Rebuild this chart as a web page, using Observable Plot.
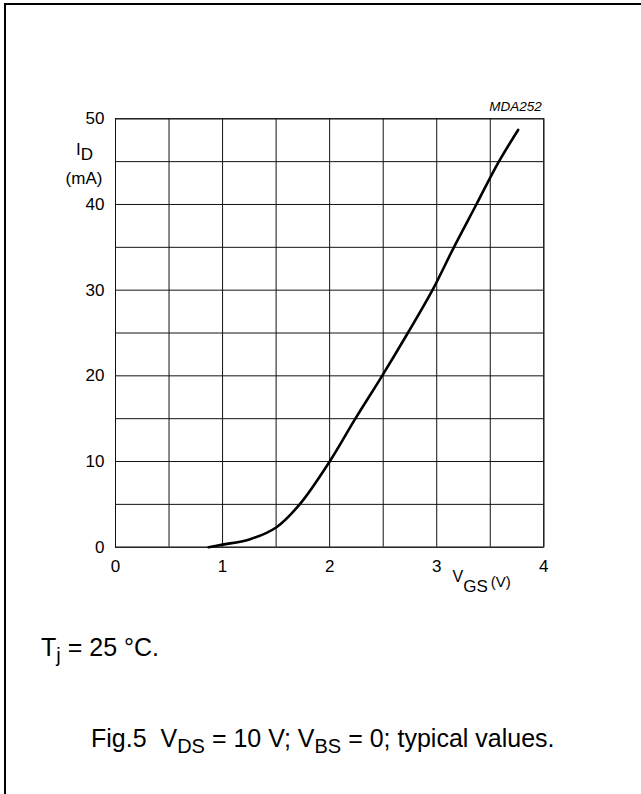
<!DOCTYPE html>
<html><head><meta charset="utf-8">
<script src="https://cdn.jsdelivr.net/npm/d3@7"></script>
<script src="https://cdn.jsdelivr.net/npm/@observablehq/plot@0.6"></script>
<style>
html,body{margin:0;padding:0;background:#fff;overflow:hidden;}
#page{position:relative;width:641px;height:794px;overflow:hidden;font-family:"Liberation Sans",Arial,sans-serif;color:#000;background:#fff;}
#border{position:absolute;left:4px;top:3px;width:700px;height:900px;border:2px solid #000;box-sizing:border-box;z-index:2;pointer-events:none;}
#chart{position:absolute;left:0;top:0;z-index:1;}
.note{position:absolute;font-size:25px;line-height:1;white-space:pre;z-index:3;}
.note sub{font-size:0.8em;vertical-align:-0.3em;line-height:0;}
</style></head><body>
<div id="page">
<div id="border"></div>
<div id="chart"></div>
<div class="note" id="tj" style="left:41px;top:635px;">T<sub>j</sub> = 25 °C.</div>
<div class="note" id="fig" style="left:91px;top:725.5px;">Fig.5  V<sub>DS</sub> = 10 V; V<sub>BS</sub> = 0; typical values.</div>
</div>
<script>
// Curve: V_GS (V) vs I_D (mA)
const vgs = [0.87, 1.0, 1.25, 1.5, 1.72, 2.0, 2.24, 2.49, 2.73, 2.96, 3.16, 3.37, 3.58, 3.76];
const idmA = [0, 0.3, 0.9, 2.3, 5, 10, 15, 20, 25, 30, 35, 40, 45, 48.7];
const xTicks = [0, 1, 2, 3, 4];
const yTicks = [0, 10, 20, 30, 40, 50];
const xGrid = [0, 0.5, 1, 1.5, 2, 2.5, 3, 3.5, 4];
const yGrid = [0, 5, 10, 15, 20, 25, 30, 35, 40, 45, 50];
const code = "MDA252";

const data = vgs.map((v, i) => ({v, i: idmA[i]}));

const W = 641, H = 600;
const mL = 115, mR = 97.7, mT = 118.3, mB = 53.3;

const plot = Plot.plot({
  width: W, height: H,
  marginLeft: mL, marginRight: mR, marginTop: mT, marginBottom: mB,
  style: {background: "transparent", fontFamily: "'Liberation Sans', Arial, sans-serif", fontSize: "17px", color: "#000"},
  x: {domain: [0, 4], label: null},
  y: {domain: [0, 50], label: null},
  marks: [
    Plot.ruleX(xGrid, {stroke: "#111", strokeWidth: 1}),
    Plot.ruleY(yGrid, {stroke: "#111", strokeWidth: 1}),
    Plot.frame({stroke: "#111", strokeWidth: 1}),
    Plot.axisX(xTicks, {tickSize: 0, tickPadding: 13, fontSize: 17, fill: "#000", label: null}),
    Plot.axisY(yTicks, {tickSize: 0, tickPadding: 11, fontSize: 17, fill: "#000", label: null}),
    Plot.line(data, {x: "v", y: "i", curve: "catmull-rom", stroke: "#000", strokeWidth: 2.6})
  ]
});
document.getElementById("chart").appendChild(plot);

const svg = d3.select(plot);
const g = svg.append("g")
  .attr("font-family", "'Liberation Sans', Arial, sans-serif")
  .attr("fill", "#000")
  .attr("text-anchor", "start");
const fr = {left: mL, right: W - mR, top: mT, bottom: H - mB};

// y-axis label I_D (mA)
const yl = g.append("text").attr("text-anchor", "start").attr("x", fr.left - 39).attr("y", fr.top + 36.5).attr("font-size", 17);
yl.append("tspan").text("I");
yl.append("tspan").attr("dy", 5.5).text("D");
g.append("text").attr("x", fr.left - 31).attr("y", fr.top + 65.5).attr("text-anchor", "middle").attr("font-size", 17).text("(mA)");

// x-axis label V_GS (V)
const xl = g.append("text").attr("text-anchor", "start").attr("x", fr.left + 337.5).attr("y", fr.bottom + 35.5).attr("font-size", 16);
xl.append("tspan").text("V");
xl.append("tspan").attr("dy", 9.5).attr("font-size", 17).text("GS");
xl.append("tspan").attr("dy", -4.5).attr("dx", 3).attr("font-size", 15).text("(V)");

// figure code
g.append("text").attr("x", fr.right - 1.5).attr("y", fr.top - 7.5).attr("text-anchor", "end")
  .attr("font-size", 13.5).attr("font-style", "italic").text(code);
</script>
</body></html>
